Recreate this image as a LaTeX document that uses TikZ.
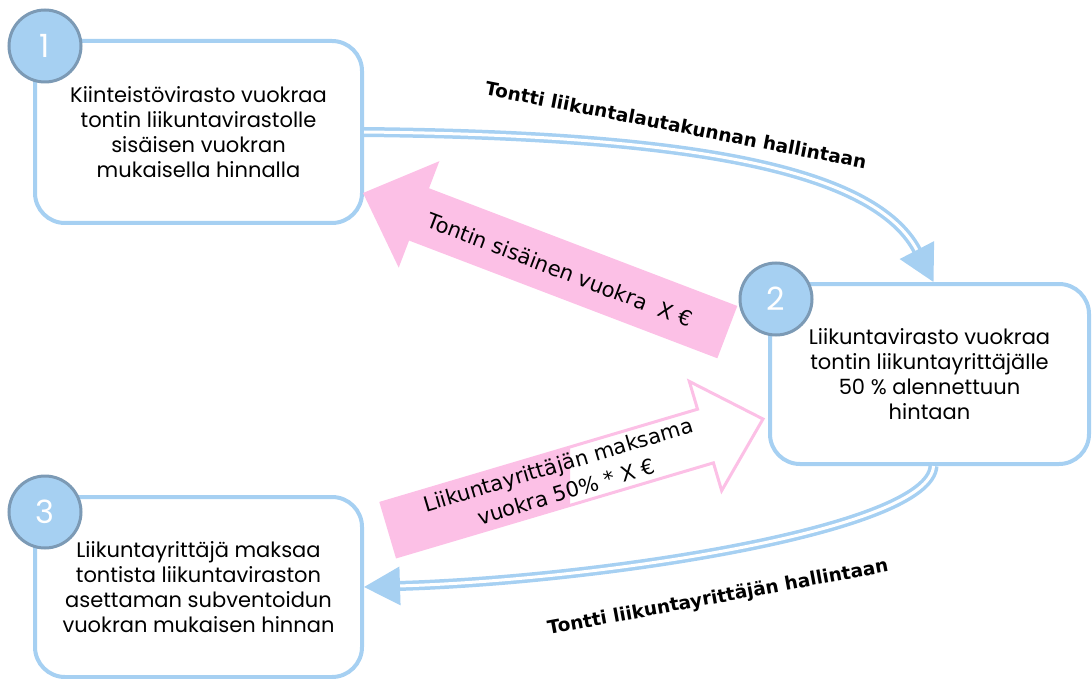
\documentclass[tikz,border=0pt]{standalone}
\usepackage{fontspec}
\setmainfont{Poppins}
\newfontfamily\labfont{DejaVu Sans}
\usetikzlibrary{arrows.meta}
\definecolor{boxblue}{HTML}{A6D0F2}
\definecolor{ringblue}{HTML}{7C9AB5}
\definecolor{badgefill}{HTML}{A6D0F2}
\definecolor{pinkfill}{HTML}{FCC0E6}
\begin{document}
\begin{tikzpicture}[x=1pt,y=-1pt,
  stepbox/.style={draw=boxblue, line width=4pt, rounded corners=30pt, fill=white,
    align=center, font=\fontsize{21}{25}\selectfont, inner sep=0pt},
  badgec/.style={circle, draw=ringblue, line width=3pt, fill=badgefill, minimum size=72pt,
    inner sep=0pt, text=white, font=\fontsize{32}{32}\selectfont},
  flow/.style={draw=boxblue, double=white, double distance=3pt, line width=3.5pt,
    -{Triangle[length=36pt,width=38pt]}},
  lab/.style={font=\labfont\bfseries\fontsize{18.5}{20}\selectfont},
  arrtext/.style={font=\labfont\fontsize{21}{28}\selectfont, align=center},
]
\useasboundingbox (0,0) rectangle (1092,679);

% boxes
\node[stepbox, minimum width=327pt, minimum height=182pt] (b1) at (198.5,132)
  {Kiinteistövirasto vuokraa\\tontin liikuntavirastolle\\sisäisen vuokran\\mukaisella hinnalla};
\node[stepbox, minimum width=319pt, minimum height=180pt] (b2) at (929.5,374)
  {Liikuntavirasto vuokraa\\tontin liikuntayrittäjälle\\50 \% alennettuun\\hintaan};
\node[stepbox, minimum width=327pt, minimum height=180pt] (b3) at (198.5,587)
  {Liikuntayrittäjä maksaa\\tontista liikuntaviraston\\asettaman subventoidun\\vuokran mukaisen hinnan};

% pink arrow 1 (filled)
\fill[pinkfill, shift={(363,193)}, rotate=159.1]
  (0,0) -- (-60,57) -- (-60,28) -- (-390,28) -- (-390,-28) -- (-60,-28) -- (-60,-57) -- cycle;
\node[arrtext, rotate=-20.9] (a1) at (560,270) {Tontin sisäinen vuokra \ X €};

% pink arrow 2 (outlined, partly filled)
\fill[white, shift={(763,419)}, rotate=16.5]
  (0,0) -- (-60,57) -- (-60,28) -- (-390,28) -- (-390,-28) -- (-60,-28) -- (-60,-57) -- cycle;
\begin{scope}
  \clip (0,0) rectangle (570,679);
  \fill[pinkfill, shift={(763,419)}, rotate=16.5]
    (0,0) -- (-60,57) -- (-60,28) -- (-390,28) -- (-390,-28) -- (-60,-28) -- (-60,-57) -- cycle;
\end{scope}
\draw[pinkfill, line width=3pt, line join=miter, shift={(763,419)}, rotate=16.5]
  (0,0) -- (-60,57) -- (-60,28) -- (-390,28) -- (-390,-28) -- (-60,-28) -- (-60,-57) -- cycle;
\node[arrtext, rotate=16.6] (a2) at (562,478) {Liikuntayrittäjän maksama\\vuokra 50\% * X €};

% flows
\draw[flow] (b1.east) .. controls (650,135) and (870,160) .. ([xshift=4pt]b2.north);
\draw[flow] ([xshift=4pt]b2.south) .. controls (930,530) and (600,580) .. (b3.east);
\node[lab, rotate=-11] (l1) at (676,125) {Tontti liikuntalautakunnan hallintaan};
\node[lab, rotate=10.5] (l2) at (718,598) {Tontti liikuntayrittäjän hallintaan};

% badges
\node[badgec] (c1) at (45,46) {1};
\node[badgec] (c2) at (776,299) {2};
\node[badgec] (c3) at (45,512) {3};
\end{tikzpicture}
\end{document}
